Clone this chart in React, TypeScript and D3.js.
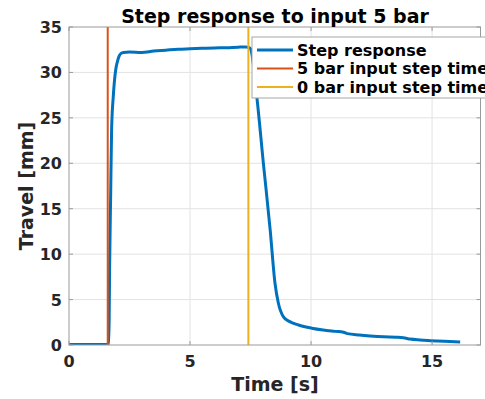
import React, { useEffect, useRef } from 'react';
import * as d3 from 'd3';

// Step response samples
const timeS = [0, 0.5, 1.0, 1.5, 1.64, 1.66, 1.68, 1.72, 1.76, 1.83, 1.93, 2.0, 2.07, 2.15, 2.25, 2.5, 3.0, 3.5, 4.0, 4.5, 5.0, 5.5, 6.0, 6.5, 7.0, 7.3, 7.42, 7.5, 7.76, 8.03, 8.31, 8.51, 8.65, 8.86, 9.1, 9.48, 10.03, 10.5, 11.0, 11.34, 11.5, 12.0, 12.44, 13.0, 13.5, 13.81, 14.09, 14.5, 14.92, 15.5, 16.16];
const travelMm = [0.05, 0.05, 0.05, 0.05, 0.1, 3, 9, 16.3, 23.7, 27.4, 30.3, 31.2, 31.8, 32.1, 32.2, 32.25, 32.2, 32.35, 32.45, 32.55, 32.6, 32.65, 32.7, 32.72, 32.78, 32.8, 32.75, 32.6, 27.3, 20, 12.7, 6.8, 4.6, 3.1, 2.6, 2.2, 1.85, 1.65, 1.5, 1.4, 1.25, 1.1, 1.0, 0.9, 0.85, 0.8, 0.65, 0.55, 0.48, 0.4, 0.33];

const stepOnTime = 1.6;
const stepOffTime = 7.41;

const xTicks = [0, 5, 10, 15];
const yTicks = [0, 5, 10, 15, 20, 25, 30, 35];

const legendItems = [
  { label: 'Step response', color: '#0072BD', width: 3 },
  { label: '5 bar input step time', color: '#D95319', width: 2 },
  { label: '0 bar input step time', color: '#EDB120', width: 2 },
];

const W = 485;
const H = 399;

export default function App() {
  const ref = useRef<SVGSVGElement>(null);

  useEffect(() => {
    const svg = d3.select(ref.current);
    svg.selectAll('*').remove();

    const margin = { left: 69, top: 27, right: 4.5, bottom: 54 };
    const x = d3.scaleLinear().domain([0, 17]).range([margin.left, W - margin.right]);
    const y = d3.scaleLinear().domain([0, 35]).range([H - margin.bottom, margin.top]);
    const font = 'DejaVu Sans, sans-serif';
    const textColor = '#262626';

    svg.append('rect').attr('width', W).attr('height', H).attr('fill', '#fff');

    // grid
    const grid = svg.append('g').attr('stroke', '#e3e3e3').attr('stroke-width', 1);
    xTicks.slice(1).forEach(t => {
      grid.append('line').attr('x1', x(t)).attr('x2', x(t)).attr('y1', y(0)).attr('y2', y(35));
    });
    yTicks.slice(1, -1).forEach(t => {
      grid.append('line').attr('x1', x(0)).attr('x2', x(17)).attr('y1', y(t)).attr('y2', y(t));
    });

    // data
    svg.append('clipPath').attr('id', 'plotclip')
      .append('rect').attr('x', x(0)).attr('y', y(35)).attr('width', x(17) - x(0)).attr('height', y(0) - y(35));

    const plot = svg.append('g').attr('clip-path', 'url(#plotclip)');
    const pts = timeS.map((t, i) => [t, travelMm[i]] as [number, number]);
    const line = d3.line<[number, number]>().x(d => x(d[0])).y(d => y(d[1])).curve(d3.curveMonotoneX);

    plot.append('path').datum(pts).attr('d', line).attr('fill', 'none')
      .attr('stroke', legendItems[0].color).attr('stroke-width', 3).attr('stroke-linejoin', 'round');

    plot.append('line').attr('x1', x(stepOnTime)).attr('x2', x(stepOnTime)).attr('y1', y(0)).attr('y2', y(35))
      .attr('stroke', legendItems[1].color).attr('stroke-width', 2);
    plot.append('line').attr('x1', x(stepOffTime)).attr('x2', x(stepOffTime)).attr('y1', y(0)).attr('y2', y(35))
      .attr('stroke', legendItems[2].color).attr('stroke-width', 2);

    // box + ticks
    const axisColor = '#9a9a9a';
    svg.append('rect').attr('x', x(0)).attr('y', y(35)).attr('width', x(17) - x(0)).attr('height', y(0) - y(35))
      .attr('fill', 'none').attr('stroke', axisColor).attr('stroke-width', 1);
    xTicks.forEach(t => {
      svg.append('line').attr('x1', x(t)).attr('x2', x(t)).attr('y1', y(0)).attr('y2', y(0) - 4).attr('stroke', axisColor);
      svg.append('line').attr('x1', x(t)).attr('x2', x(t)).attr('y1', y(35)).attr('y2', y(35) + 4).attr('stroke', axisColor);
      svg.append('text').attr('x', x(t)).attr('y', y(0) + 22).attr('text-anchor', 'middle')
        .attr('font-family', font).attr('font-weight', 'bold').attr('font-size', 16).attr('fill', textColor).text(t);
    });
    yTicks.forEach(t => {
      svg.append('line').attr('x1', x(0)).attr('x2', x(0) + 4).attr('y1', y(t)).attr('y2', y(t)).attr('stroke', axisColor);
      svg.append('line').attr('x1', x(17)).attr('x2', x(17) - 4).attr('y1', y(t)).attr('y2', y(t)).attr('stroke', axisColor);
      svg.append('text').attr('x', x(0) - 7).attr('y', y(t) + 6).attr('text-anchor', 'end')
        .attr('font-family', font).attr('font-weight', 'bold').attr('font-size', 16).attr('fill', textColor).text(t);
    });

    // labels
    svg.append('text').attr('x', 275).attr('y', 22.5).attr('text-anchor', 'middle')
      .attr('font-family', font).attr('font-weight', 'bold').attr('font-size', 19).attr('fill', '#000')
      .text('Step response to input 5 bar');
    svg.append('text').attr('x', 275).attr('y', 391).attr('text-anchor', 'middle')
      .attr('font-family', font).attr('font-weight', 'bold').attr('font-size', 19).attr('fill', textColor)
      .text('Time [s]');
    svg.append('text').attr('transform', `translate(33,${(y(0) + y(35)) / 2}) rotate(-90)`).attr('text-anchor', 'middle')
      .attr('font-family', font).attr('font-weight', 'bold').attr('font-size', 19).attr('fill', textColor)
      .text('Travel [mm]');

    // legend
    const lg = svg.append('g').attr('transform', 'translate(252,37)');
    lg.append('rect').attr('x', 0).attr('y', 0).attr('width', 260).attr('height', 61)
      .attr('fill', '#fff').attr('stroke', '#a6a6a6').attr('stroke-width', 1);
    legendItems.forEach((d, i) => {
      const yy = 13 + i * 18.5;
      lg.append('line').attr('x1', 5).attr('x2', 41).attr('y1', yy).attr('y2', yy)
        .attr('stroke', d.color).attr('stroke-width', d.width);
      lg.append('text').attr('x', 45).attr('y', yy + 5.5).attr('font-family', font).attr('font-weight', 'bold')
        .attr('font-size', 16).attr('fill', '#000').text(d.label);
    });
  }, []);

  return <svg ref={ref} width={W} height={H} style={{ position: 'absolute', left: 0, top: 0 }} />;
}
